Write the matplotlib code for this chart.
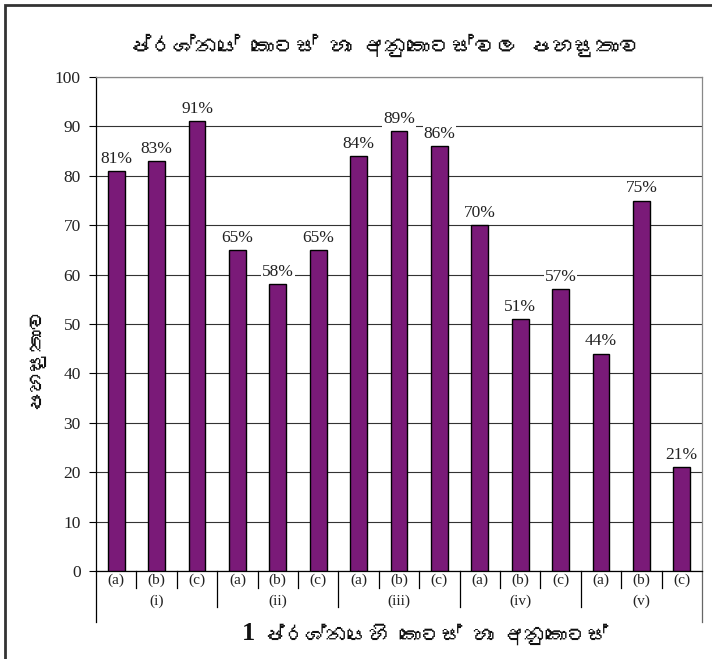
import matplotlib
matplotlib.use("Agg")
import matplotlib.pyplot as plt
from matplotlib import font_manager
from matplotlib.transforms import blended_transform_factory
from matplotlib.lines import Line2D
from matplotlib.patches import Rectangle

# ---- data ----
parts = ["(i)", "(ii)", "(iii)", "(iv)", "(v)"]
subparts = ["(a)", "(b)", "(c)"]
values = [81, 83, 91, 65, 58, 65, 84, 89, 86, 70, 51, 57, 44, 75, 21]
yticks = [0, 10, 20, 30, 40, 50, 60, 70, 80, 90, 100]

title = "ප්රශ්නයේ කොටස් හා අනුකොටස්වල පහසුතාව"
ylabel = "පහසුතාව"
xlabel_num = "1"
xlabel = "ප්රශ්නයෙහි කොටස් හා අනුකොටස්"


def find_sinhala_font():
    """Return the family name of an installed font covering Sinhala, if any."""
    try:
        from fontTools.ttLib import TTFont
    except Exception:
        return None
    probe = ord("ප")
    for fe in font_manager.fontManager.ttflist:
        try:
            f = TTFont(fe.fname, fontNumber=0, lazy=True)
            cmap = f.getBestCmap()
            if cmap and probe in cmap:
                return fe.name
        except Exception:
            continue
    return None


sin_font = find_sinhala_font()
sin_family = [sin_font, "DejaVu Sans"] if sin_font else ["DejaVu Sans"]
serif = ["Liberation Serif", "DejaVu Serif"]

plt.rcParams["font.family"] = serif

fig = plt.figure(figsize=(7.12, 6.59), dpi=100)
ax = fig.add_axes([96 / 712, 1 - 571 / 659, 606 / 712, 494 / 659])

bar_color = "#7a1a78"
x = list(range(len(values)))
ax.bar(x, values, width=0.42, color=bar_color, edgecolor="black",
       linewidth=1.0, zorder=3)

for xi, v in zip(x, values):
    ax.annotate(f"{v}%", (xi, v), xytext=(0, 3), textcoords="offset points",
                ha="center", va="bottom", fontsize=12.5, color="#222222",
                bbox=dict(boxstyle="square,pad=0.05", fc="white", ec="none"),
                zorder=4)

ax.set_xlim(-0.5, len(values) - 0.5)
ax.set_ylim(0, 100)
ax.set_yticks(yticks)
ax.set_yticklabels([str(t) for t in yticks], fontsize=12.5, color="#222222")
ax.tick_params(axis="y", direction="out", length=5, width=0.8, pad=6)
ax.set_xticks([])
ax.yaxis.grid(True, color="#333333", linewidth=0.8, zorder=0)
ax.set_axisbelow(True)

ax.spines["left"].set_color("black")
ax.spines["bottom"].set_color("black")
ax.spines["right"].set_color("#888888")
ax.spines["top"].set_color("#888888")
for s in ax.spines.values():
    s.set_linewidth(0.9)

# category table under the axis
tr = blended_transform_factory(ax.transData, ax.transAxes)
for i, xi in enumerate(x):
    ax.text(xi, -0.019, subparts[i % 3], transform=tr, ha="center", va="center",
            fontsize=11, color="#222222")
for g, name in enumerate(parts):
    ax.text(3 * g + 1, -0.061, name, transform=tr, ha="center", va="center",
            fontsize=11, color="#222222")

for k in range(len(values) - 1):
    xb = k + 0.5
    ylow = -0.072 if (k + 1) % 3 == 0 else -0.035
    ax.add_line(Line2D([xb, xb], [0, ylow], transform=tr, color="black",
                       linewidth=0.9, clip_on=False))
ax.add_line(Line2D([-0.5, -0.5], [0, -0.104], transform=tr, color="black",
                   linewidth=0.9, clip_on=False))
ax.add_line(Line2D([14.5, 14.5], [0, -0.104], transform=tr, color="#666666",
                   linewidth=0.9, clip_on=False))

# titles
fig.text(385 / 712, 1 - 45 / 659, title, ha="center", va="center",
         fontsize=16, family=sin_family, color="#111111")
fig.text(34 / 712, 1 - 357 / 659, ylabel, ha="center", va="center",
         rotation=90, fontsize=15, family=sin_family, fontweight="bold",
         color="#111111")
fig.text(248 / 712, 1 - 634 / 659, xlabel_num, ha="center", va="center",
         fontsize=19, fontweight="bold", color="#111111")
fig.text(264 / 712, 1 - 634 / 659, xlabel, ha="left", va="center",
         fontsize=15, family=sin_family, color="#111111")

# outer frame
fig.add_artist(Rectangle((5 / 712, -0.05), 1.2, 1 - 5 / 659 + 0.05,
                         transform=fig.transFigure, fill=False,
                         edgecolor="#333333", linewidth=2.0))

fig.savefig("out.png", dpi=100)
